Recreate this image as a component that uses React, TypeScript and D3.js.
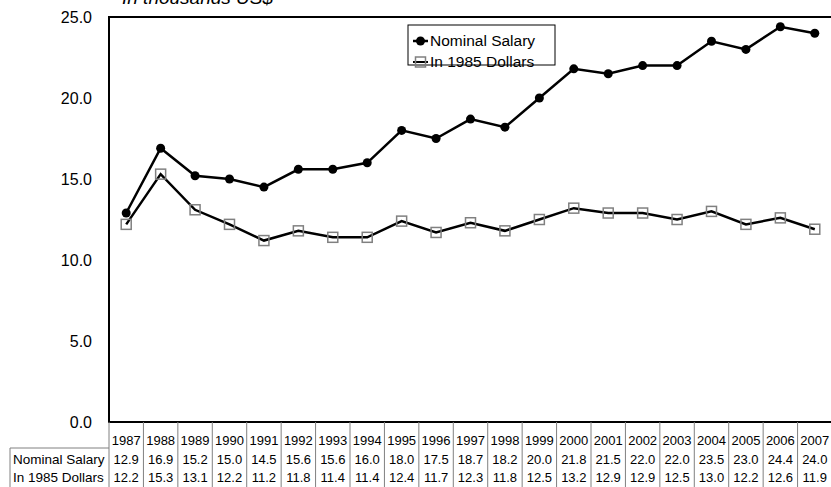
import * as d3 from "d3";

const years = ["1987","1988","1989","1990","1991","1992","1993","1994","1995","1996","1997","1998","1999","2000","2001","2002","2003","2004","2005","2006","2007"];
const nominal = [12.9,16.9,15.2,15.0,14.5,15.6,15.6,16.0,18.0,17.5,18.7,18.2,20.0,21.8,21.5,22.0,22.0,23.5,23.0,24.4,24.0];
const real1985 = [12.2,15.3,13.1,12.2,11.2,11.8,11.4,11.4,12.4,11.7,12.3,11.8,12.5,13.2,12.9,12.9,12.5,13.0,12.2,12.6,11.9];
const yTicks = [0, 5, 10, 15, 20, 25];

const W = 831;
const H = 487;
const left = 109;
const right = 832;
const top = 17;
const bottom = 422;
const font = "'Liberation Sans', Arial, sans-serif";

export default function App() {
  const x = d3.scaleBand().domain(years).range([left, right]);
  const y = d3.scaleLinear().domain([0, 25]).range([bottom, top]);
  const cx = (yr: string) => x(yr)! + x.bandwidth() / 2;

  const line = d3
    .line<number>()
    .x((_, i) => cx(years[i]))
    .y((d) => y(d));

  const rowY = [440, 459, 477];

  return (
    <svg width={W} height={H} style={{ position: "absolute", left: 0, top: 0, background: "#fff" }}>
      {/* title, partly cut off at the top */}
      <text x={122} y={4} fontFamily={font} fontSize={19} fontStyle="italic">
        In thousands US$
      </text>

      {/* y axis labels */}
      {yTicks.map((t) => (
        <text key={t} x={92} y={y(t)} dy="0.35em" textAnchor="end" fontFamily={font} fontSize={16}>
          {t.toFixed(1)}
        </text>
      ))}

      {/* plot frame */}
      <rect x={left} y={top} width={right - left} height={bottom - top} fill="none" stroke="#000" strokeWidth={2} />

      {/* lines */}
      <path d={line(nominal)!} fill="none" stroke="#000" strokeWidth={2.5} />
      <path d={line(real1985)!} fill="none" stroke="#000" strokeWidth={2.5} />
      {nominal.map((v, i) => (
        <circle key={i} cx={cx(years[i])} cy={y(v)} r={4.5} fill="#000" />
      ))}
      {real1985.map((v, i) => (
        <rect key={i} x={cx(years[i]) - 5} y={y(v) - 5} width={10} height={10} fill="none" stroke="#808080" strokeWidth={1.5} />
      ))}

      {/* legend */}
      <rect x={408} y={25} width={147} height={40} fill="#fff" stroke="#000" strokeWidth={1} />
      <line x1={413} x2={428} y1={41} y2={41} stroke="#000" strokeWidth={2.5} />
      <circle cx={420.5} cy={41} r={4.5} fill="#000" />
      <text x={430} y={41} dy="0.35em" fontFamily={font} fontSize={15.5}>Nominal Salary</text>
      <line x1={413} x2={428} y1={62} y2={62} stroke="#000" strokeWidth={2} />
      <rect x={415.5} y={57} width={10} height={10} fill="none" stroke="#808080" strokeWidth={1.5} />
      <text x={430} y={62} dy="0.35em" fontFamily={font} fontSize={15.5}>In 1985 Dollars</text>

      {/* data table */}
      {years.map((yr) => (
        <line key={yr} x1={x(yr)! + x.bandwidth()} x2={x(yr)! + x.bandwidth()} y1={bottom} y2={H} stroke="#808080" strokeWidth={1} />
      ))}
      <line x1={left} x2={left} y1={bottom} y2={H} stroke="#808080" strokeWidth={1} />
      <polyline points={`10,${H} 10,448 ${left},448`} fill="none" stroke="#808080" strokeWidth={1} />
      {years.map((yr, i) => (
        <g key={yr} fontFamily={font} fontSize={13} textAnchor="middle">
          <text x={cx(yr)} y={rowY[0]} dy="0.35em">{yr}</text>
          <text x={cx(yr)} y={rowY[1]} dy="0.35em">{nominal[i].toFixed(1)}</text>
          <text x={cx(yr)} y={rowY[2]} dy="0.35em">{real1985[i].toFixed(1)}</text>
        </g>
      ))}
      <text x={13} y={rowY[1]} dy="0.35em" fontFamily={font} fontSize={13.5}>Nominal Salary</text>
      <text x={13} y={rowY[2]} dy="0.35em" fontFamily={font} fontSize={13.5}>In 1985 Dollars</text>
    </svg>
  );
}
